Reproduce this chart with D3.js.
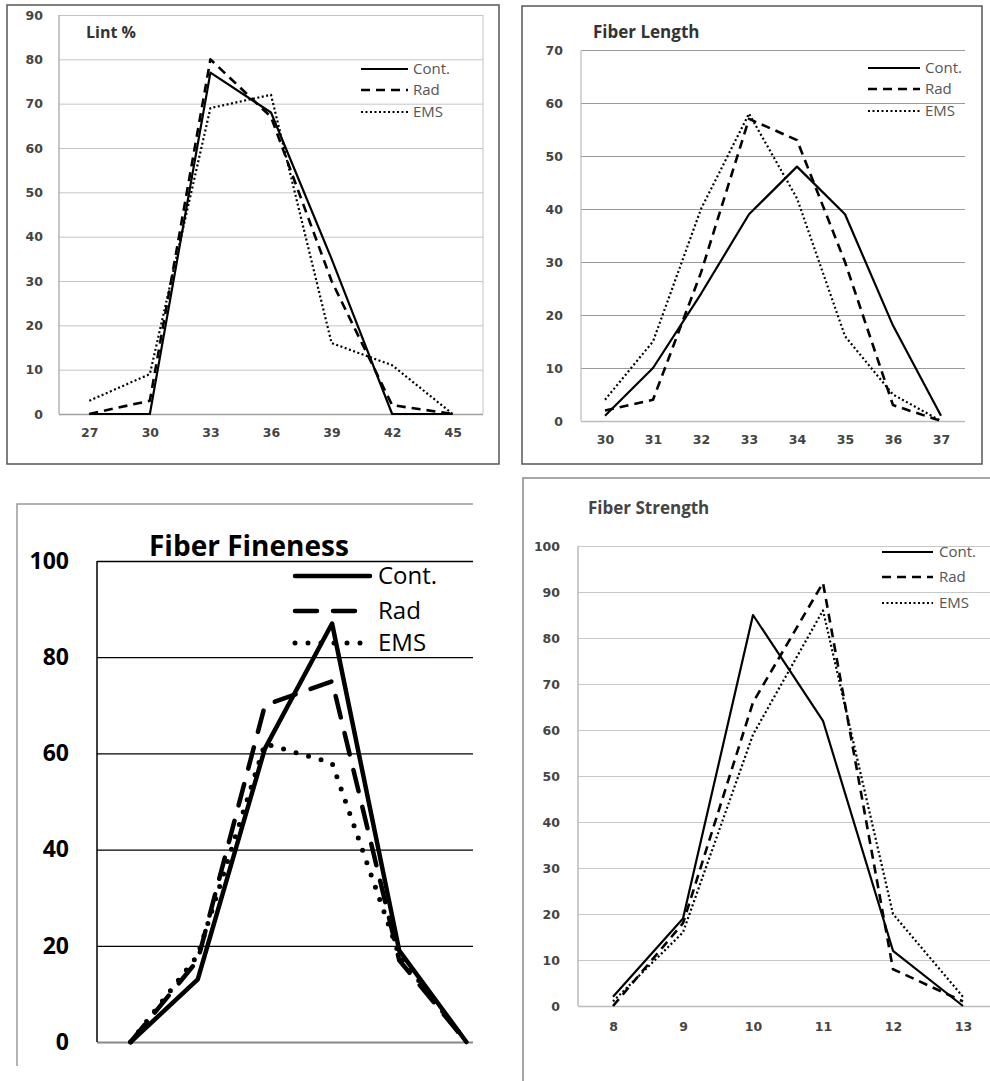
<!DOCTYPE html>
<html lang="en">
<head>
<meta charset="utf-8">
<title>Lint %, fiber length, fineness and strength</title>
<script src="https://d3js.org/d3.v7.min.js"></script>
<style>
  body { margin: 0; background: #fff; }
  svg { display: block; }
</style>
</head>
<body>
<script>
// Lint %
var lintCats = [27, 30, 33, 36, 39, 42, 45];
var lintCont = [0, 0, 77, 68, 35, 0, 0];
var lintRad  = [0, 3, 80, 67, 30, 2, 0];
var lintEms  = [3, 9, 69, 72, 16, 11, 0];
var lintTicks = [0, 10, 20, 30, 40, 50, 60, 70, 80, 90];

// Fiber Length
var lengthCats = [30, 31, 32, 33, 34, 35, 36, 37];
var lengthCont = [1, 10, 24, 39, 48, 39, 18, 1];
var lengthRad  = [2, 4, 28, 57, 53, 30, 3, 0];
var lengthEms  = [4, 15, 40, 58, 42, 16, 5, 0];
var lengthTicks = [0, 10, 20, 30, 40, 50, 60, 70];

// Fiber Fineness (category labels are cut off in the picture)
var finenessCats = ["c1", "c2", "c3", "c4", "c5", "c6"];
var finenessCont = [0, 13, 61, 87, 19, 0];
var finenessRad  = [0, 17, 70, 75, 17, 0];
var finenessEms  = [0, 18, 62, 58, 18, 0];
var finenessTicks = [0, 20, 40, 60, 80, 100];

// Fiber Strength
var strengthCats = [8, 9, 10, 11, 12, 13];
var strengthCont = [2, 19, 85, 62, 12, 0];
var strengthRad  = [0, 18, 66, 92, 8, 1];
var strengthEms  = [1, 16, 59, 86, 20, 2];
var strengthTicks = [0, 10, 20, 30, 40, 50, 60, 70, 80, 90, 100];

var seriesNames = ["Cont.", "Rad", "EMS"];

var svg = d3.select("body").append("svg")
    .attr("width", 990)
    .attr("height", 1081);

function drawPanel(p) {
  var g = svg.append("g");

  // frame
  if (p.frame == "box") {
    g.append("rect")
      .attr("x", p.box[0]).attr("y", p.box[1])
      .attr("width", p.box[2] - p.box[0]).attr("height", p.box[3] - p.box[1])
      .attr("fill", "none").attr("stroke", p.frameColor).attr("stroke-width", 1.5);
  } else {
    g.append("path")
      .attr("d", "M" + p.box[2] + "," + p.box[1] + "H" + p.box[0] + "V" + p.box[3])
      .attr("fill", "none").attr("stroke", p.frameColor).attr("stroke-width", 1.5);
  }

  var clipId = "clip" + p.id;
  svg.append("clipPath").attr("id", clipId)
    .append("rect")
      .attr("x", p.left - 5).attr("y", p.top - 10)
      .attr("width", p.clipRight - p.left + 5).attr("height", p.bottom - p.top + 20);

  var x = d3.scalePoint()
      .domain(p.cats)
      .range([p.left, p.right])
      .padding(0.5);

  var y = d3.scaleLinear()
      .domain([0, p.ticks[p.ticks.length - 1]])
      .range([p.bottom, p.top]);

  // gridlines
  var grid = g.append("g")
      .attr("clip-path", "url(#" + clipId + ")")
    .append("g")
      .attr("transform", "translate(" + p.left + ",0)")
      .call(d3.axisLeft(y).tickValues(p.ticks).tickSize(-(p.right - p.left)).tickFormat(""));
  grid.select(".domain").remove();
  grid.selectAll("line")
      .attr("stroke", p.gridColor)
      .attr("stroke-width", p.gridWidth);
  grid.selectAll(".tick").filter(function(d) { return d == 0; }).select("line")
      .attr("stroke", p.baseColor)
      .attr("stroke-width", p.baseWidth);

  // y axis line
  g.append("line")
    .attr("x1", p.left).attr("x2", p.left)
    .attr("y1", p.top).attr("y2", p.bottom)
    .attr("stroke", p.axisColor).attr("stroke-width", p.axisWidth);
  if (p.rightLine) {
    g.append("line")
      .attr("x1", p.right).attr("x2", p.right)
      .attr("y1", p.top).attr("y2", p.bottom)
      .attr("stroke", p.gridColor).attr("stroke-width", 1);
  }

  // y tick labels
  var yl = g.append("g")
      .attr("transform", "translate(" + p.yLabelX + ",0)")
      .call(d3.axisLeft(y).tickValues(p.ticks).tickSize(0).tickPadding(0));
  yl.select(".domain").remove();
  yl.selectAll("text")
      .attr("font-family", p.tickFont)
      .attr("font-size", p.tickSize)
      .attr("font-weight", "bold")
      .attr("fill", p.textColor);

  // x tick labels
  if (p.xLabels) {
    var xl = g.append("g")
        .attr("transform", "translate(0," + p.xLabelY + ")")
        .call(d3.axisBottom(x).tickSize(0).tickPadding(0));
    xl.select(".domain").remove();
    xl.selectAll("text")
        .attr("font-family", p.tickFont)
        .attr("font-size", p.tickSize)
        .attr("font-weight", "bold")
        .attr("fill", p.textColor);
  }

  // title
  g.append("text")
    .attr("x", p.titleX).attr("y", p.titleY)
    .attr("font-family", "Open Sans")
    .attr("font-size", p.titleSize)
    .attr("font-weight", "bold")
    .attr("fill", p.titleColor)
    .text(p.title);

  // series
  var line = d3.line()
      .x(function(d, i) { return x(p.cats[i]); })
      .y(function(d) { return y(d); });

  var lines = g.append("g").attr("clip-path", "url(#" + clipId + ")");
  p.series.forEach(function(s, i) {
    lines.append("path")
      .datum(s)
      .attr("d", line)
      .attr("fill", "none")
      .attr("stroke", "#000")
      .attr("stroke-width", p.styles[i].w)
      .attr("stroke-dasharray", p.styles[i].dash)
      .attr("stroke-linecap", p.styles[i].cap)
      .attr("stroke-linejoin", "round");
  });

  // legend
  seriesNames.forEach(function(name, i) {
    var ly = p.legendY[i];
    g.append("line")
      .attr("x1", p.legendX[0]).attr("x2", p.legendX[1])
      .attr("y1", ly).attr("y2", ly)
      .attr("stroke", "#000")
      .attr("stroke-width", p.styles[i].w)
      .attr("stroke-dasharray", p.styles[i].dash)
      .attr("stroke-linecap", p.styles[i].cap);
    g.append("text")
      .attr("x", p.legendX[2]).attr("y", ly)
      .attr("dy", "0.35em")
      .attr("font-family", "Open Sans")
      .attr("font-size", p.legendSize)
      .attr("fill", p.legendColor)
      .text(name);
  });
}

var thinStyles = [
  { w: 2.2, dash: null, cap: "butt" },
  { w: 2.6, dash: "9,6", cap: "butt" },
  { w: 2.2, dash: "2,2.5", cap: "butt" }
];

drawPanel({
  id: 1, title: "Lint %", frame: "box", box: [7, 5, 499, 464], frameColor: "#555",
  cats: lintCats, ticks: lintTicks, series: [lintCont, lintRad, lintEms],
  left: 59, right: 483, clipRight: 483, top: 15, bottom: 414,
  gridColor: "#c4c4c4", gridWidth: 1, baseColor: "#a0a0a0", baseWidth: 1.5,
  axisColor: "#a0a0a0", axisWidth: 1.2, rightLine: true,
  yLabelX: 43, xLabels: true, xLabelY: 428,
  tickFont: "DejaVu Sans", tickSize: 12.5, textColor: "#444",
  titleX: 86, titleY: 38, titleSize: 16, titleColor: "#333",
  legendX: [361, 408, 413], legendY: [69, 90, 112], legendSize: 15, legendColor: "#555",
  styles: thinStyles
});

drawPanel({
  id: 2, title: "Fiber Length", frame: "box", box: [522, 6, 982, 464], frameColor: "#555",
  cats: lengthCats, ticks: lengthTicks, series: [lengthCont, lengthRad, lengthEms],
  left: 581, right: 965, clipRight: 965, top: 50, bottom: 421,
  gridColor: "#9a9a9a", gridWidth: 1.2, baseColor: "#bbb", baseWidth: 1.5,
  axisColor: "#bbb", axisWidth: 1.2, rightLine: false,
  yLabelX: 563, xLabels: true, xLabelY: 435,
  tickFont: "DejaVu Sans", tickSize: 12.5, textColor: "#444",
  titleX: 593, titleY: 38, titleSize: 17, titleColor: "#333",
  legendX: [868, 920, 925], legendY: [68, 89, 111], legendSize: 15, legendColor: "#555",
  styles: thinStyles
});

drawPanel({
  id: 3, title: "Fiber Fineness", frame: "corner", box: [17, 504, 473, 1066], frameColor: "#999",
  cats: finenessCats, ticks: finenessTicks, series: [finenessCont, finenessRad, finenessEms],
  left: 97, right: 500, clipRight: 473, top: 561, bottom: 1042,
  gridColor: "#000", gridWidth: 1.3, baseColor: "#888", baseWidth: 2,
  axisColor: "#000", axisWidth: 1.5, rightLine: false,
  yLabelX: 69, xLabels: false,
  tickFont: "Open Sans", tickSize: 23, textColor: "#000",
  titleX: 149, titleY: 556, titleSize: 28, titleColor: "#000",
  legendX: [295, 370, 378], legendY: [576, 611, 643], legendSize: 24, legendColor: "#000",
  styles: [
    { w: 4.5, dash: null, cap: "round" },
    { w: 4.5, dash: "22,16", cap: "round" },
    { w: 5, dash: "0,13", cap: "round" }
  ]
});

drawPanel({
  id: 4, title: "Fiber Strength", frame: "corner", box: [523, 478, 990, 1081], frameColor: "#888",
  cats: strengthCats, ticks: strengthTicks, series: [strengthCont, strengthRad, strengthEms],
  left: 578, right: 998, clipRight: 990, top: 546, bottom: 1006,
  gridColor: "#c8c8c8", gridWidth: 1.2, baseColor: "#bbb", baseWidth: 1.5,
  axisColor: "#aaa", axisWidth: 1.2, rightLine: false,
  yLabelX: 560, xLabels: true, xLabelY: 1022,
  tickFont: "DejaVu Sans", tickSize: 12.5, textColor: "#444",
  titleX: 588, titleY: 514, titleSize: 17, titleColor: "#444",
  legendX: [882, 933, 939], legendY: [552, 577, 603], legendSize: 15, legendColor: "#555",
  styles: thinStyles
});
</script>
</body>
</html>
